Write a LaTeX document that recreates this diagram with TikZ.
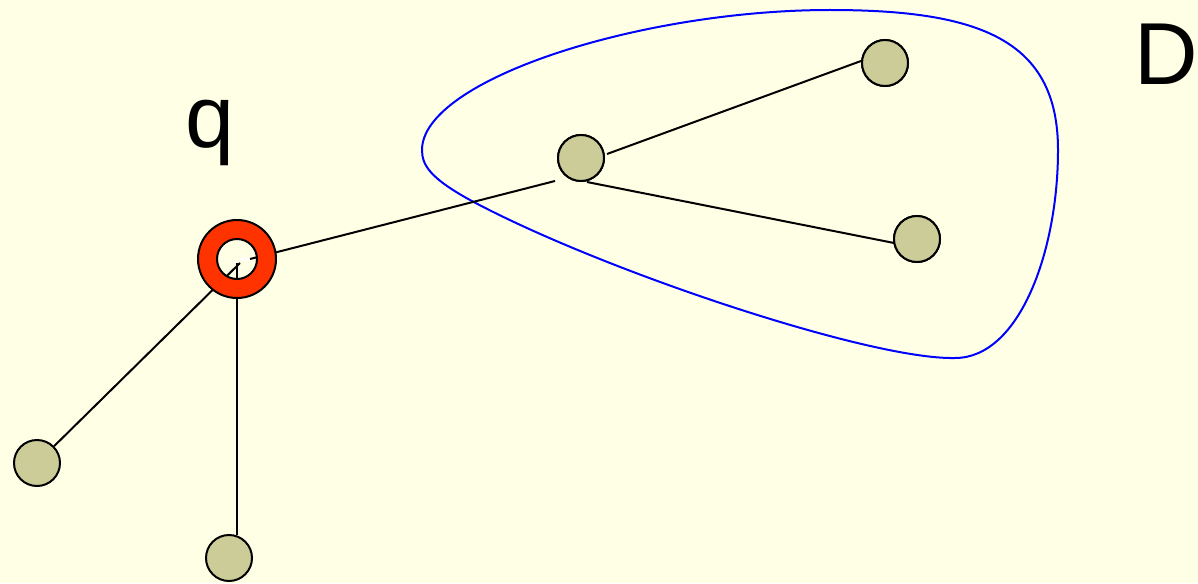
\documentclass[tikz,border=0pt]{standalone}
\usepackage{fontspec}
\setmainfont{Liberation Sans}
\definecolor{bgc}{RGB}{255,255,230}
\definecolor{nodefill}{RGB}{204,204,153}
\definecolor{ringred}{RGB}{255,51,0}
\begin{document}
\begin{tikzpicture}[x=1pt,y=-1pt,
  vert/.style={circle,draw=black,line width=2pt,fill=nodefill,minimum size=46pt,inner sep=0pt},
  edge/.style={draw=black,line width=2pt},
  lbl/.style={font=\fontsize{88}{88}\selectfont,inner sep=0pt,anchor=base}]
\fill[bgc] (0,0) rectangle (1198,583);
\useasboundingbox (0,0) rectangle (1198,583);
% blue region
\draw[blue,line width=2pt] (422,150)
  .. controls (422,80) and (640,10) .. (830,10)
  .. controls (980,10) and (1058,40) .. (1058,150)
  .. controls (1058,250) and (1020,358) .. (955,358)
  .. controls (870,360) and (600,270) .. (470,200)
  .. controls (430,178) and (422,165) .. cycle;
% nodes
\node[vert] (A) at (581,158) {};
\node[vert] (B) at (885,63) {};
\node[vert] (C) at (917,239) {};
\node[vert] (E) at (37,463) {};
\node[vert] (F) at (229,558) {};
\coordinate (q) at (237,259);
\coordinate (qc1) at (240,263);
\coordinate (qc2) at (237,263);
\coordinate (qc3) at (250,259);
\coordinate (Fi) at (237,535);
\coordinate (Ai) at (555,181);
\coordinate (Ab) at (607,154);
\coordinate (Bi) at (861,61);
\coordinate (Ac) at (587,182);
\coordinate (Ci) at (894,243);
% edges
\draw[edge] (Ab) -- (Bi);
\draw[edge] (Ac) -- (Ci);
\draw[edge] (qc1) -- (E);
\draw[edge] (qc2) -- (Fi);
\draw[edge] (qc3) -- (Ai);
% redraw nodes on top of edge ends
\node[vert] at (A) {};
\node[vert] at (B) {};
\node[vert] at (C) {};
% q ring
\fill[ringred,even odd rule] (q) circle (39) (q) circle (20);
\draw[black,line width=2pt] (q) circle (39);
\draw[black,line width=2pt] (q) circle (20);
\draw[white,line width=3pt] (241,259) -- (248.5,259.5);
% labels
\node[lbl] (ql) at (210,147) {q};
\node[lbl] (Dl) at (1166,85) {D};
\end{tikzpicture}
\end{document}
